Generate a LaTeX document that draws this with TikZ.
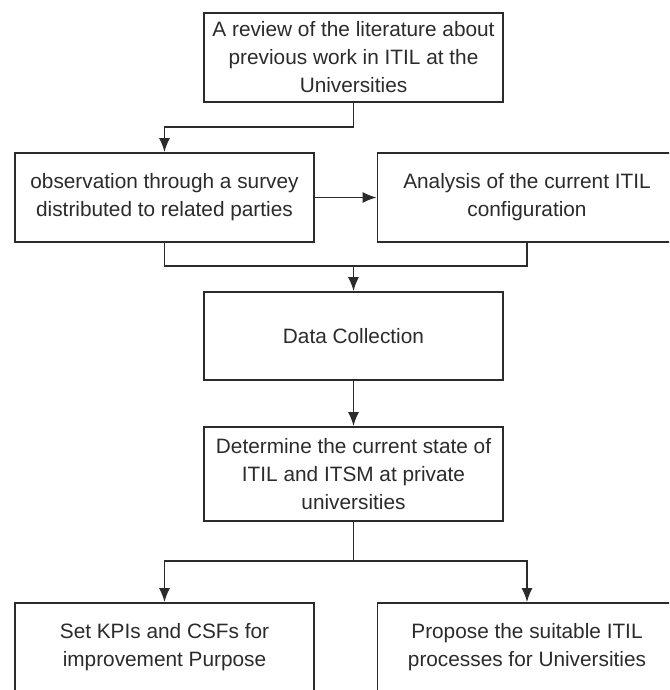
\documentclass[tikz,border=0pt]{standalone}
\usepackage{fontspec}
\setmainfont{Liberation Sans}
\usetikzlibrary{shapes,arrows,arrows.meta,positioning,calc}
\definecolor{linegray}{HTML}{2B2B2B}
\tikzset{
block/.style = {draw=linegray, line width=1.7pt, fill=white, rectangle, align=center, text=linegray,
  minimum height=89pt, minimum width=299pt, inner sep=0pt,
  font=\fontsize{20.8}{28}\selectfont},
tmp/.style  = {coordinate},
link/.style = {draw=linegray, line width=1.7pt}
}
\begin{document}
\begin{tikzpicture}[auto, node distance=140pt, x=1pt, y=1pt, >={Latex[length=14pt,width=11pt]}]

                % page frame of the reference
                \useasboundingbox (-353.5,57.5) rectangle (315.5,-632.5);
                \clip (-353.5,57.5) rectangle (315.5,-632.5);

                \node [block] (review) {A review of the literature about\\previous work in ITIL at the\\Universities};
                \node [tmp, below of=review, node distance=69.5pt] (turn) {};
                \node [block, below of=review, xshift=-189pt] (survey) {observation through a survey\\distributed to related parties};
                \node [block, below of=review, xshift=173.5pt] (analysis) {Analysis of the current ITIL\\configuration};
                \node [block, below of=review, node distance=278.5pt, minimum height=88pt] (collection) {Data Collection};
                \node [tmp, above of=collection, node distance=70pt] (join) {};
                \node [block, below of=collection, node distance=138pt, minimum height=94pt] (state) {Determine the current state of\\ITIL and ITSM at private\\universities};
                \node [tmp, below of=state, node distance=87pt] (split) {};
                \node [block, below of=state, node distance=173.5pt, xshift=-189pt] (kpi) {Set KPIs and CSFs for\\improvement Purpose};
                \node [block, below of=state, node distance=173.5pt, xshift=173.5pt] (propose) {Propose the suitable ITIL\\processes for Universities};

                \draw [link,->] (review) -- (turn) -| (survey);
                \draw [link,->] (survey) -- (analysis);
                \draw [link] (survey) |- (join);
                \draw [link] (analysis) |- (join);
                \draw [link,->] (join) -- (collection);
                \draw [link,->] (collection) -- (state);
                \draw [link] (state) -- (split);
                \draw [link,->] (split) -| (kpi);
                \draw [link,->] (split) -| (propose);
            \end{tikzpicture}
\end{document}
